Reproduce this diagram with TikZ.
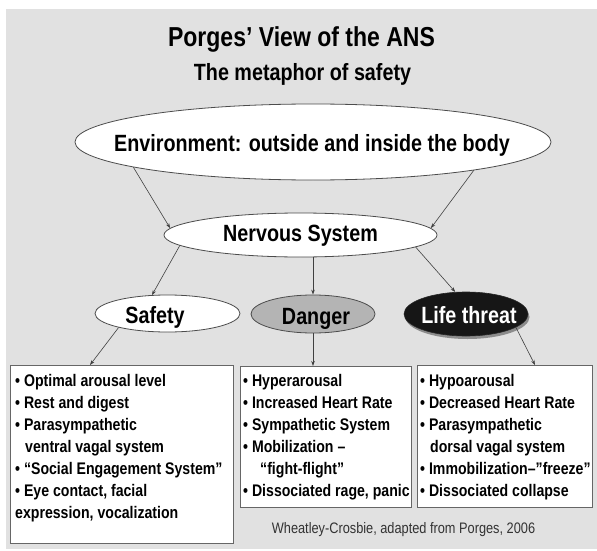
\documentclass[tikz,border=0pt]{standalone}
\usepackage{fontspec}
\setmainfont{Liberation Sans}[FakeStretch=0.84]
\usetikzlibrary{shapes.geometric,arrows.meta,calc}
\definecolor{bggray}{HTML}{E1E1E1}
\definecolor{dangergray}{HTML}{B4B4B4}
\definecolor{lifedark}{HTML}{161616}
\tikzset{
  ell/.style={ellipse, draw=black!70, line width=0.8pt, fill=white, inner sep=0pt},
  conn/.style={draw=black!75, line width=0.6pt, -{Stealth[length=5pt,width=3.5pt]}},
  boxframe/.style={rectangle, draw=black!60, line width=0.8pt, fill=white, inner sep=0pt, anchor=north west},
  boxtext/.style={inner sep=0pt, anchor=north west, align=left, font=\fontsize{16.8}{22}\selectfont\bfseries},
  lbl/.style={inner sep=0pt, anchor=base, font=\fontsize{23.5}{26}\selectfont\bfseries}
}
\begin{document}
\begin{tikzpicture}[x=1pt,y=-1pt]
\useasboundingbox (0,0) rectangle (597,551);
\fill[bggray] (6,9) rectangle (597,549);

% titles
\node[inner sep=0pt, anchor=base, font=\fontsize{27.4}{30}\selectfont\bfseries] (title) at (301.5,47) {Porges’ View of the ANS};
\node[inner sep=0pt, anchor=base, font=\fontsize{23.5}{26}\selectfont\bfseries] (subtitle) at (302.5,81) {The metaphor of safety};

% ellipses
\node[ell, minimum width=476pt, minimum height=76pt] (env) at (313,142) {};
\node[lbl] (envtxt) at (312,151) {Environment: outside and inside the body};

\node[ell, minimum width=273pt, minimum height=44pt] (ns) at (300.5,235) {};
\node[lbl] (nstxt) at (300.5,241) {Nervous System};

\node[ell, minimum width=145pt, minimum height=37pt] (sf) at (167.5,313.5) {};
\node[lbl] (sftxt) at (155,323) {Safety};

\node[ell, fill=dangergray, minimum width=124pt, minimum height=38pt] (dn) at (313,314) {};
\node[lbl] (dntxt) at (316,324.5) {Danger};

\node[ellipse, fill=black!45, inner sep=0pt, minimum width=124pt, minimum height=44pt] (lfsh) at (467.5,317) {};
\node[ellipse, draw=black!85, line width=0.6pt, fill=lifedark, inner sep=0pt, minimum width=124pt, minimum height=44pt] (lf) at (466,314) {};
\node[lbl, text=white] (lftxt) at (469,323) {Life threat};

% boxes
\node[boxframe, minimum width=223pt, minimum height=178pt] (lbox) at (10,365) {};
\node[boxframe, minimum width=171pt, minimum height=141pt] (mbox) at (240,366) {};
\node[boxframe, minimum width=175pt, minimum height=142pt] (rbox) at (417,365) {};

\node[boxtext] (ltxt) at (15,373) {\rule{0pt}{13pt}• Optimal arousal level\\
• Rest and digest\\
• Parasympathetic\\
\hspace*{10pt}ventral vagal system\\
• “Social Engagement System”\\
• Eye contact, facial\\
expression, vocalization};

\node[boxtext] (mtxt) at (243,373) {\rule{0pt}{13pt}• Hyperarousal\\
• Increased Heart Rate\\
• Sympathetic System\\
• Mobilization –\\
\hspace*{17pt}“fight-flight”\\
• Dissociated rage, panic};

\node[boxtext] (rtxt) at (420,373) {\rule{0pt}{13pt}• Hypoarousal\\
• Decreased Heart Rate\\
• Parasympathetic\\
\hspace*{10pt}dorsal vagal system\\
• Immobilization–”freeze”\\
• Dissociated collapse};

\node[inner sep=0pt, anchor=base, text=black!80, font=\fontsize{15.2}{17}\selectfont] (credit) at (403.5,533) {Wheatley-Crosbie, adapted from Porges, 2006};

% connectors
\draw[conn] (env.188) -- (ns.177);
\draw[conn] (env.350) -- (ns.3);
\draw[conn] (ns.185) -- (sf.130);
\draw[conn] (ns.south -| dn.north) -- (dn.north);
\draw[conn] (ns.354) -- (lf.116);
\draw[conn] (sf.196) -- ([xshift=80pt]lbox.north west);
\draw[conn] (dn.south) -- (dn.south |- mbox.north);
\draw[conn] (lf.345) -- ([xshift=118pt]rbox.north west);
\end{tikzpicture}
\end{document}
